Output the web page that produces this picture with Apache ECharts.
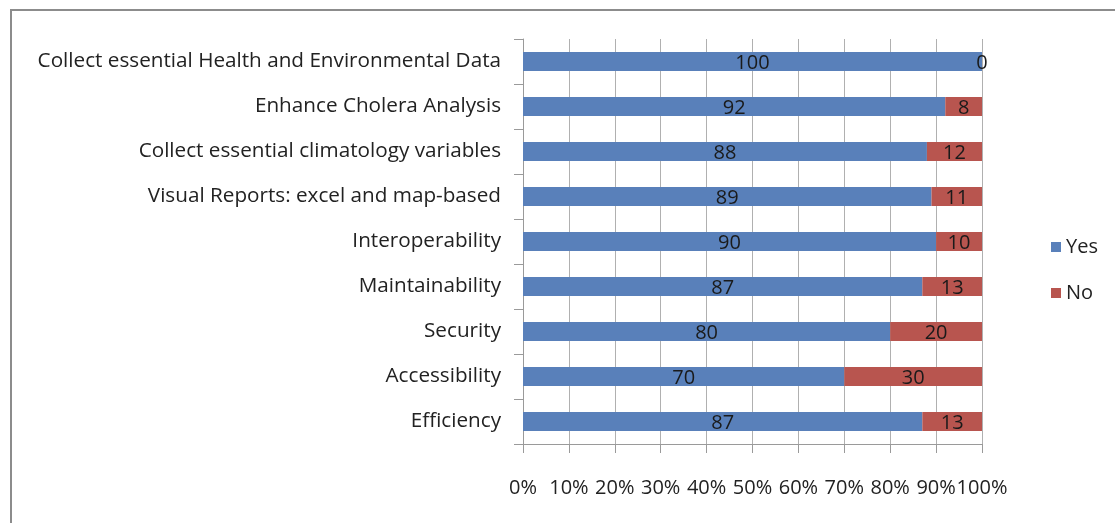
<!DOCTYPE html>
<html><head><meta charset="utf-8">
<script src="https://cdn.jsdelivr.net/npm/echarts@6/dist/echarts.min.js"></script>
<style>html,body{margin:0;padding:0;background:#fff}#c{width:1115px;height:523px}</style>
</head><body><div id="c"></div>
<script>
const categories = [
  "Collect essential Health and Environmental Data",
  "Enhance Cholera Analysis",
  "Collect essential climatology variables",
  "Visual Reports: excel and map-based",
  "Interoperability",
  "Maintainability",
  "Security",
  "Accessibility",
  "Efficiency"
];
const yesValues = [100, 92, 88, 89, 90, 87, 80, 70, 87];
const noValues  = [0, 8, 12, 11, 10, 13, 20, 30, 13];
const seriesNames = ["Yes", "No"];
const FONT = "Open Sans";

const chart = echarts.init(document.getElementById('c'), null, {renderer: 'canvas'});
const labelStyle = {show: true, position: 'inside', offset: [0, 2], color: '#1a1a1a', fontSize: 20, fontFamily: FONT};
chart.setOption({
  animation: false,
  backgroundColor: '#fff',
  graphic: [{
    type: 'rect', shape: {x: 11, y: 10, width: 1200, height: 700},
    style: {fill: 'none', stroke: '#8c8c8c', lineWidth: 2}, silent: true
  }],
  grid: {left: 523, right: 133, top: 39, bottom: 79, containLabel: false},
  legend: {
    orient: 'vertical', left: 1046, top: 232, itemWidth: 10, itemHeight: 10, itemGap: 26,
    icon: 'rect',
    textStyle: {fontSize: 20, fontFamily: FONT, color: '#222', padding: [0, 0, 0, 0]},
    data: seriesNames
  },
  xAxis: {
    type: 'value', min: 0, max: 100, interval: 10,
    axisLine: {show: true, lineStyle: {color: '#9a9a9a', width: 1}},
    axisTick: {show: true, length: 9, lineStyle: {color: '#9a9a9a'}},
    splitLine: {show: true, lineStyle: {color: '#b0b0b0', width: 1}},
    axisLabel: {formatter: '{value}%', fontSize: 20, fontFamily: FONT, color: '#222', margin: 34}
  },
  yAxis: {
    type: 'category', data: categories, inverse: true,
    axisLine: {show: true, lineStyle: {color: '#9a9a9a', width: 1}},
    axisTick: {show: true, length: 9, lineStyle: {color: '#9a9a9a'}},
    axisLabel: {fontSize: 20.7, fontFamily: FONT, color: '#222', margin: 22, padding: [6, 0, 0, 0]}
  },
  series: [
    {name: seriesNames[0], type: 'bar', stack: 'total', data: yesValues, barWidth: 19,
     itemStyle: {color: '#5980BA'}, label: labelStyle},
    {name: seriesNames[1], type: 'bar', stack: 'total', data: noValues, barWidth: 19,
     itemStyle: {color: '#B8554F'}, label: labelStyle}
  ]
});
</script></body></html>
